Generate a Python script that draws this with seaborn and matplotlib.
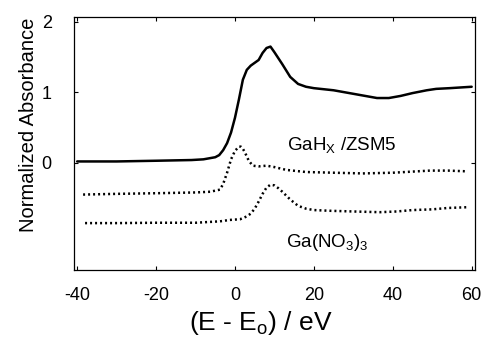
import numpy as np
import pandas as pd
import matplotlib
matplotlib.use('Agg')
import matplotlib.pyplot as plt
import seaborn as sns

# GaHx/ZSM5 (solid, top curve)
e_top = [-40, -30, -20, -11, -8, -5, -4, -3, -2, -1, 0, 1, 2, 3, 4, 5, 6, 7, 8, 9,
         10, 12, 14, 16, 18, 20, 25, 29, 33, 36, 39, 42, 45, 48.6, 51, 54.4, 60]
a_top = [0.02, 0.02, 0.03, 0.04, 0.05, 0.08, 0.11, 0.18, 0.28, 0.43, 0.64, 0.90, 1.18,
         1.32, 1.38, 1.42, 1.46, 1.56, 1.63, 1.65, 1.57, 1.40, 1.22, 1.12, 1.08, 1.06,
         1.03, 0.99, 0.95, 0.92, 0.92, 0.95, 0.99, 1.03, 1.05, 1.06, 1.08]

# middle dotted curve
e_mid = [-38.5, -30, -19, -10, -6.3, -3.8, -3, -2, -1, 0, 1, 1.5, 2, 2.5, 3.5, 4.5,
         6, 8, 10, 13, 18, 25, 32.4, 40, 49.4, 54, 58.7]
a_mid = [-0.45, -0.44, -0.43, -0.42, -0.41, -0.38, -0.30, -0.14, 0.05, 0.17, 0.23,
         0.23, 0.20, 0.15, 0.03, -0.04, -0.05, -0.04, -0.06, -0.10, -0.13, -0.14,
         -0.15, -0.14, -0.11, -0.11, -0.12]

# Ga(NO3)3 (lower dotted curve)
e_low = [-38, -30, -20, -10, -3.8, -1.3, 1.3, 3, 4, 5, 6, 7, 8, 9, 10, 11, 12, 14,
         16, 18, 20, 24, 30, 36.7, 41, 45, 50, 54, 58.7]
a_low = [-0.855, -0.855, -0.85, -0.85, -0.83, -0.81, -0.80, -0.76, -0.72, -0.65,
         -0.55, -0.44, -0.35, -0.31, -0.32, -0.36, -0.41, -0.52, -0.61, -0.65,
         -0.67, -0.68, -0.69, -0.70, -0.69, -0.67, -0.66, -0.64, -0.63]

x_ticks = [-40, -20, 0, 20, 40, 60]
y_ticks = [0, 1, 2]

sns.set_style('ticks')
plt.rcParams['font.family'] = ['Liberation Sans', 'DejaVu Sans']
plt.rcParams['mathtext.fontset'] = 'custom'
plt.rcParams['mathtext.rm'] = 'Liberation Sans'
plt.rcParams['mathtext.it'] = 'Liberation Sans'
plt.rcParams['axes.unicode_minus'] = False
plt.rcParams['text.color'] = 'black'
plt.rcParams['axes.labelcolor'] = 'black'
plt.rcParams['xtick.color'] = 'black'
plt.rcParams['ytick.color'] = 'black'

fig = plt.figure(figsize=(4.87, 3.40), dpi=100)
ax = fig.add_axes([0.152, 0.206, 0.823, 0.744])

top = pd.DataFrame({'E': e_top, 'A': a_top})
mid = pd.DataFrame({'E': e_mid, 'A': a_mid})
low = pd.DataFrame({'E': e_low, 'A': a_low})

sns.lineplot(data=top, x='E', y='A', ax=ax, color='black', lw=1.8)
sns.lineplot(data=mid, x='E', y='A', ax=ax, color='black', lw=1.8,
             linestyle=(0, (0.8, 1.2)))
sns.lineplot(data=low, x='E', y='A', ax=ax, color='black', lw=1.8,
             linestyle=(0, (0.8, 1.2)))

ax.text(13.2, 0.25, r'GaH$_{\mathrm{X}}$ /ZSM5', fontsize=13.5, va='center', ha='left')
ax.text(13.0, -1.13, r'Ga(NO$_3$)$_3$', fontsize=13.5, va='center', ha='left')

ax.set_xlim(-40.8, 60.8)
ax.set_ylim(-1.52, 2.07)
ax.set_xticks(x_ticks)
ax.set_yticks(y_ticks)
ax.tick_params(direction='in', length=3, width=0.8, top=True, right=True,
               labelsize=13)
ax.tick_params(axis='x', pad=12)
ax.tick_params(axis='y', pad=16)
for s in ax.spines.values():
    s.set_linewidth(0.9)
    s.set_color('black')

ax.set_xlabel(r'(E - E$_{\mathrm{o}}$) / eV', fontsize=19)
ax.set_ylabel('Normalized Absorbance', fontsize=14.5)
ax.xaxis.set_label_coords(0.465, -0.155)
ax.yaxis.set_label_coords(-0.09, 0.573)

fig.savefig('out.png', dpi=100, facecolor='white')
